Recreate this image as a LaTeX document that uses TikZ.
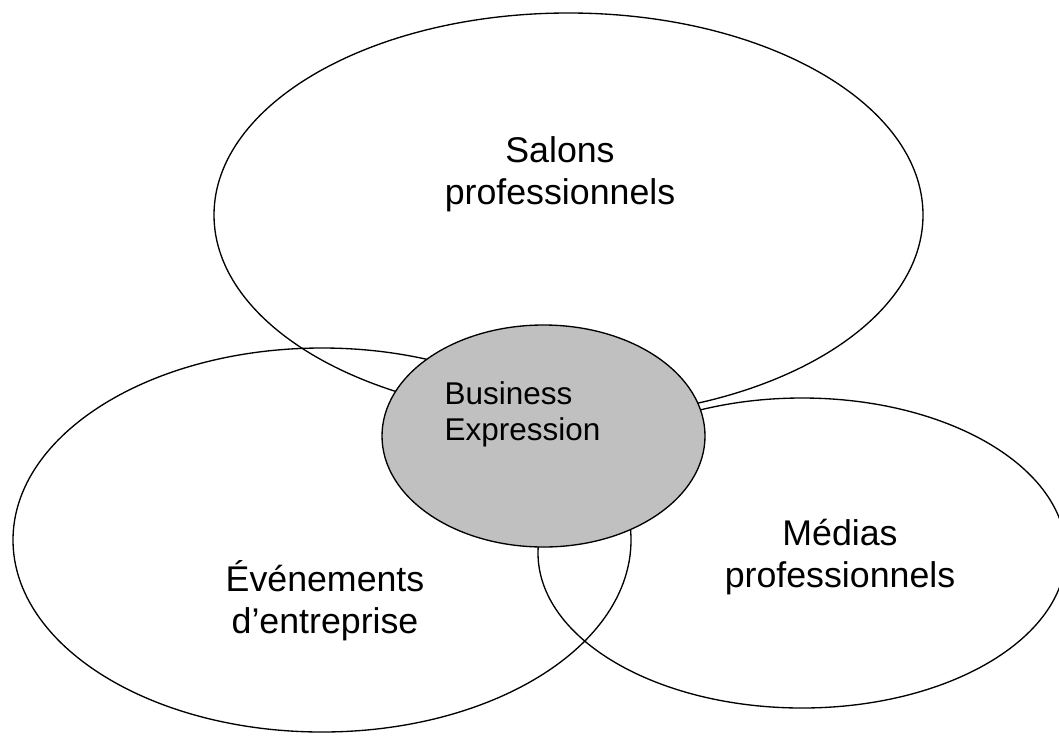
\documentclass[tikz,border=0pt]{standalone}
\usepackage{fontspec}
\setmainfont{Liberation Sans}
\definecolor{coregray}{HTML}{C0C0C0}

\begin{document}
\begin{tikzpicture}[x=0.75pt,y=-0.75pt,
    ring/.style={draw=black,line width=1pt},
    ringtext/.style={font=\fontsize{26.8}{31.5}\selectfont,align=center,anchor=base},
    coretext/.style={font=\fontsize{23.6}{26.3}\selectfont,align=left,anchor=base west}]
  \useasboundingbox (0,0) rectangle (1059,736);
  % the three outer fields, outlines only
  \draw[ring] (568.5,215) ellipse [x radius=354.5, y radius=202];
  \draw[ring] (322,540) ellipse [x radius=309, y radius=192];
  \draw[ring] (802,553) ellipse [x radius=264, y radius=155];
  % shaded core on top
  \draw[ring,fill=coregray] (543.5,436) ellipse [x radius=161.5, y radius=111];
  % labels (anchored on the baseline of their last line)
  \node[ringtext] (salons) at (560,204) {Salons\\professionnels};
  \node[ringtext] (evenements) at (325,633) {Événements\\d’entreprise};
  \node[ringtext] (medias) at (840,587) {Médias\\professionnels};
  \node[coretext] (business) at (440,440) {Business\\Expression};
\end{tikzpicture}
\end{document}
